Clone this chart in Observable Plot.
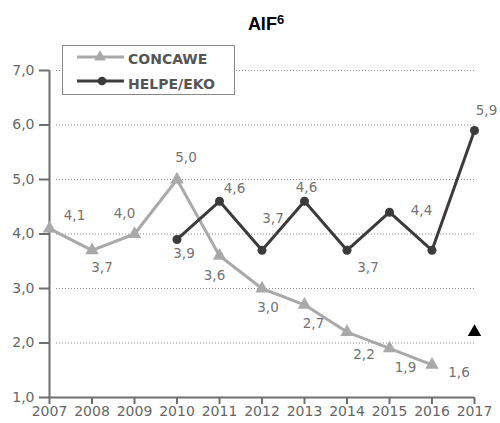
<!DOCTYPE html>
<html>
<head>
<meta charset="utf-8">
<script src="https://cdn.jsdelivr.net/npm/d3@7"></script>
<script src="https://cdn.jsdelivr.net/npm/@observablehq/plot@0.6"></script>
<style>
  body { margin: 0; background: #fff; }
  #wrap { position: relative; width: 500px; height: 423px; font-family: "DejaVu Sans", sans-serif; }
  #title { height: 38px; box-sizing: border-box; padding-left: 32px; text-align: center;
           font-family: "Liberation Sans", Arial, sans-serif; font-weight: bold; font-size: 18px;
           line-height: 18px; padding-top: 15px; color: #000; }
  #title sup { font-size: 13px; vertical-align: 6px; line-height: 0; }
  #legend { position: absolute; left: 62px; top: 45px; width: 173px; height: 50px;
            box-sizing: border-box; border: 1px solid #888; background: #fff; }
  #legend svg { position: absolute; left: -1px; top: -1px; }
</style>
</head>
<body>
<div id="wrap">
  <div id="title">AIF<sup>6</sup></div>
  <div id="chart"></div>
  <div id="legend"></div>
</div>
<script>
// ---- data ----
const years = [2007, 2008, 2009, 2010, 2011, 2012, 2013, 2014, 2015, 2016, 2017];
const yTicks = [1, 2, 3, 4, 5, 6, 7];
const seriesNames = ["CONCAWE", "HELPE/EKO"];
const concaweYears = [2007, 2008, 2009, 2010, 2011, 2012, 2013, 2014, 2015, 2016];
const concaweValues = [4.1, 3.7, 4.0, 5.0, 3.6, 3.0, 2.7, 2.2, 1.9, 1.6];
const helpeYears = [2010, 2011, 2012, 2013, 2014, 2015, 2016, 2017];
const helpeValues = [3.9, 4.6, 3.7, 4.6, 3.7, 4.4, 3.7, 5.9];
const helpeLabeled = [true, true, true, true, true, true, false, true];
const concawe2017Year = [2017];
const concawe2017Value = [2.2];

// ---- label placement (layout only) ----
const concaweLabelOffsets = [[25,-13],[10,17],[-10,-20],[9,-22],[-5,20],[6,19],[9,19],[17,23],[16,19],[27,8]];
const helpeLabelOffsets = [[7,14],[15,-13],[11,-32],[2,-14],[21,17],[32,-2],[0,0],[12,-20]];

const concawe = concaweYears.map((x, i) => ({x, y: concaweValues[i], s: seriesNames[0]}));
const helpe = helpeYears.map((x, i) => ({x, y: helpeValues[i], s: seriesNames[1]}));
const black = concawe2017Year.map((x, i) => ({x, y: concawe2017Value[i]}));

const fmt = v => v.toFixed(1).replace(".", ",");
const cGray = "#a9a9a9", cDark = "#3b3b3b", cAxis = "#6e6e6e", cLabel = "#737373";

const labelMarks = [];
concawe.forEach((d, i) => {
  const [dx, dy] = concaweLabelOffsets[i];
  labelMarks.push(Plot.text([d], {x: "x", y: "y", text: d => fmt(d.y), dx, dy, fill: cLabel, fontSize: 13.5}));
});
helpe.forEach((d, i) => {
  if (!helpeLabeled[i]) return;
  const [dx, dy] = helpeLabelOffsets[i];
  labelMarks.push(Plot.text([d], {x: "x", y: "y", text: d => fmt(d.y), dx, dy, fill: cLabel, fontSize: 13.5}));
});

const chart = Plot.plot({
  width: 500,
  height: 385,
  marginTop: 32,
  marginBottom: 26,
  marginLeft: 49,
  marginRight: 26,
  style: {fontFamily: "DejaVu Sans, sans-serif", fontSize: "14px", background: "#fff", overflow: "visible"},
  x: {domain: [2007, 2017], label: null},
  y: {domain: [1, 7], label: null},
  marks: [
    Plot.ruleY(yTicks.filter(t => t > 1), {stroke: "#8a8a8a", strokeWidth: 1, strokeDasharray: "1,2", insetLeft: 7}),
    Plot.axisY({ticks: yTicks, tickFormat: fmt, tickSize: 10, tickPadding: 5, stroke: cAxis, strokeWidth: 2, fill: "#666", label: null}),
    Plot.axisX({ticks: years, tickFormat: d => String(d), tickSize: 7, tickPadding: 2, stroke: cAxis, strokeWidth: 2, fill: "#666", label: null}),
    Plot.ruleX([2007], {y1: 1, y2: 7, stroke: cAxis, strokeWidth: 2}),
    Plot.ruleY([1], {stroke: cAxis, strokeWidth: 2}),
    Plot.line(concawe, {x: "x", y: "y", stroke: cGray, strokeWidth: 3}),
    Plot.dot(concawe, {x: "x", y: "y", symbol: "triangle", r: 5, fill: cGray}),
    Plot.line(helpe, {x: "x", y: "y", stroke: cDark, strokeWidth: 3}),
    Plot.dot(helpe, {x: "x", y: "y", r: 4.5, fill: cDark}),
    Plot.dot(black, {x: "x", y: "y", symbol: "triangle", r: 5, fill: "#000"}),
    ...labelMarks
  ]
});
document.getElementById("chart").appendChild(chart);

// ---- legend (HTML overlay) ----
const lg = d3.select("#legend").append("svg").attr("width", 173).attr("height", 50);
const rows = [
  {name: seriesNames[0], color: cGray, sym: d3.symbolTriangle, size: 60, y: 12, ty: 18, cx: 38},
  {name: seriesNames[1], color: cDark, sym: d3.symbolCircle, size: 60, y: 36, ty: 43, cx: 40}
];
rows.forEach(r => {
  lg.append("line").attr("x1", 15).attr("x2", 62).attr("y1", r.y).attr("y2", r.y)
    .attr("stroke", r.color).attr("stroke-width", 3);
  lg.append("path").attr("d", d3.symbol(r.sym, r.size)()).attr("transform", `translate(${r.cx},${r.y})`)
    .attr("fill", r.color);
  lg.append("text").attr("x", 66).attr("y", r.ty + 1).text(r.name)
    .attr("font-family", "DejaVu Sans, sans-serif").attr("font-weight", "bold").attr("font-size", 14)
    .attr("fill", "#555");
});
</script>
</body>
</html>
